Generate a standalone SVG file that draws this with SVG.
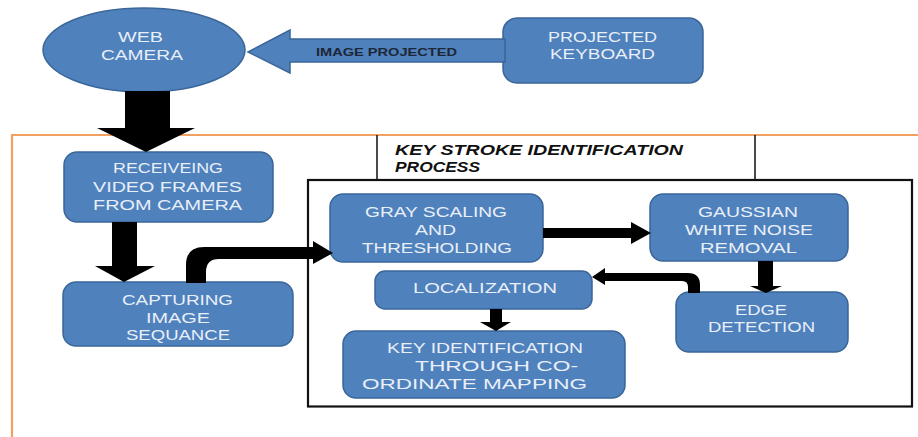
<svg xmlns="http://www.w3.org/2000/svg" width="918" height="437" viewBox="0 0 918 437">
  <style>
    .node { fill: #4F81BD; stroke: #3A6699; stroke-width: 1.5; }
    .lbl { font-family: "Liberation Sans", Arial, sans-serif; font-size: 14px; fill: #E9EFF8; }
    .dark { font-family: "Liberation Sans", Arial, sans-serif; font-weight: bold; fill: #1C2738; }
    .title { font-family: "Liberation Sans", Arial, sans-serif; font-weight: bold; font-style: italic; font-size: 14px; fill: #111; }
    .arrow { fill: #000; }
  </style>

  <rect width="918" height="437" fill="#fff"/>

  <!-- process frame -->
  <g id="frame">
    <path d="M12,437 L12,135 L918,135" fill="none" stroke="#F0A060" stroke-width="2.2"/>
    <path d="M377,135 L377,180 M755,180 L755,135" fill="none" stroke="#111" stroke-width="1.5"/>
    <text class="title" x="395" y="155" textLength="288" lengthAdjust="spacingAndGlyphs">KEY STROKE IDENTIFICATION</text>
    <text class="title" x="395" y="172" textLength="85" lengthAdjust="spacingAndGlyphs">PROCESS</text>
    <rect x="308" y="180" width="604" height="226.5" fill="none" stroke="#111" stroke-width="2.2"/>
  </g>

  <!-- nodes -->
  <g id="web-camera">
    <ellipse class="node" cx="144" cy="50" rx="101" ry="42"/>
    <text class="lbl" x="118" y="42" textLength="45" lengthAdjust="spacingAndGlyphs">WEB</text>
    <text class="lbl" x="101" y="60" textLength="82" lengthAdjust="spacingAndGlyphs">CAMERA</text>
  </g>

  <g id="projected-keyboard">
    <rect class="node" x="503" y="18" width="200" height="65" rx="14"/>
    <text class="lbl" x="548" y="42" textLength="109" lengthAdjust="spacingAndGlyphs">PROJECTED</text>
    <text class="lbl" x="550" y="59" textLength="105" lengthAdjust="spacingAndGlyphs">KEYBOARD</text>
  </g>

  <g id="receiving-frames">
    <rect class="node" x="64" y="152" width="209" height="70" rx="13"/>
    <text class="lbl" x="113" y="173" textLength="110" lengthAdjust="spacingAndGlyphs">RECEIVEING</text>
    <text class="lbl" x="93" y="192" textLength="149" lengthAdjust="spacingAndGlyphs">VIDEO FRAMES</text>
    <text class="lbl" x="93" y="210" textLength="149" lengthAdjust="spacingAndGlyphs">FROM CAMERA</text>
  </g>

  <g id="capturing-sequence">
    <rect class="node" x="63" y="282" width="230" height="64" rx="13"/>
    <text class="lbl" x="122" y="305" textLength="111" lengthAdjust="spacingAndGlyphs">CAPTURING</text>
    <text class="lbl" x="146" y="323" textLength="64" lengthAdjust="spacingAndGlyphs">IMAGE</text>
    <text class="lbl" x="126" y="340" textLength="104" lengthAdjust="spacingAndGlyphs">SEQUANCE</text>
  </g>

  <g id="gray-scaling">
    <rect class="node" x="330" y="194" width="213" height="68" rx="13"/>
    <text class="lbl" x="365" y="217" textLength="142" lengthAdjust="spacingAndGlyphs">GRAY SCALING</text>
    <text class="lbl" x="415" y="235" textLength="41" lengthAdjust="spacingAndGlyphs">AND</text>
    <text class="lbl" x="362" y="253" textLength="150" lengthAdjust="spacingAndGlyphs">THRESHOLDING</text>
  </g>

  <g id="gaussian-noise">
    <rect class="node" x="650" y="194" width="198" height="67" rx="13"/>
    <text class="lbl" x="698" y="217" textLength="100" lengthAdjust="spacingAndGlyphs">GAUSSIAN</text>
    <text class="lbl" x="685" y="235" textLength="128" lengthAdjust="spacingAndGlyphs">WHITE NOISE</text>
    <text class="lbl" x="700" y="253" textLength="97" lengthAdjust="spacingAndGlyphs">REMOVAL</text>
  </g>

  <g id="edge-detection">
    <rect class="node" x="676" y="292" width="172" height="60" rx="13"/>
    <text class="lbl" x="735" y="315" textLength="52" lengthAdjust="spacingAndGlyphs">EDGE</text>
    <text class="lbl" x="708" y="332" textLength="107" lengthAdjust="spacingAndGlyphs">DETECTION</text>
  </g>

  <g id="localization">
    <rect class="node" x="375" y="271" width="217" height="38" rx="10"/>
    <text class="lbl" x="413" y="293" textLength="144" lengthAdjust="spacingAndGlyphs">LOCALIZATION</text>
  </g>

  <g id="key-identification">
    <rect class="node" x="343" y="331" width="282" height="67" rx="13"/>
    <text class="lbl" x="387" y="353" textLength="196" lengthAdjust="spacingAndGlyphs">KEY IDENTIFICATION</text>
    <text class="lbl" x="415" y="371" textLength="163" lengthAdjust="spacingAndGlyphs">THROUGH CO-</text>
    <text class="lbl" x="362" y="389" textLength="225" lengthAdjust="spacingAndGlyphs">ORDINATE MAPPING</text>
  </g>

  <!-- connectors -->
  <g id="connectors">
    <!-- keyboard to camera: block arrow with label -->
    <path class="node" d="M505,39 L290,39 L290,30 L248,52 L290,73 L290,62 L505,62 Z"/>
    <text class="dark" x="316" y="55.8" font-size="10.5" textLength="141" lengthAdjust="spacingAndGlyphs">IMAGE PROJECTED</text>

    <!-- camera to receiving -->
    <path class="arrow" d="M125,91 L170,91 L170,128 L195,128 L146,152 L97,128 L125,128 Z"/>
    <!-- receiving to capturing -->
    <path class="arrow" d="M112,222 L137,222 L137,266 L155,266 L124,282 L95,266 L112,266 Z"/>
    <!-- capturing to gray scaling -->
    <path class="arrow" d="M186,283 L186,265 Q186,247 204,247 L313,247 L313,241 L333,253 L313,264 L313,259 L219,259 Q206,259 206,272 L206,283 Z"/>
    <!-- gray scaling to gaussian -->
    <path class="arrow" d="M543,228 L631,228 L631,222 L651,233 L631,244 L631,238 L543,238 Z"/>
    <!-- gaussian to edge detection -->
    <path class="arrow" d="M758,261 L773,261 L773,286 L782,286 L766,293 L750,286 L758,286 Z"/>
    <!-- edge detection to localization -->
    <path class="arrow" d="M700,293 L700,285 Q700,273 688,273 L605,273 L605,268 L592,277 L605,285 L605,281 L682,281 Q688,281 688,287 L688,293 Z"/>
    <!-- localization to key identification -->
    <path class="arrow" d="M490,309 L502,309 L502,322 L511,322 L496,331 L480,322 L490,322 Z"/>
  </g>
</svg>
